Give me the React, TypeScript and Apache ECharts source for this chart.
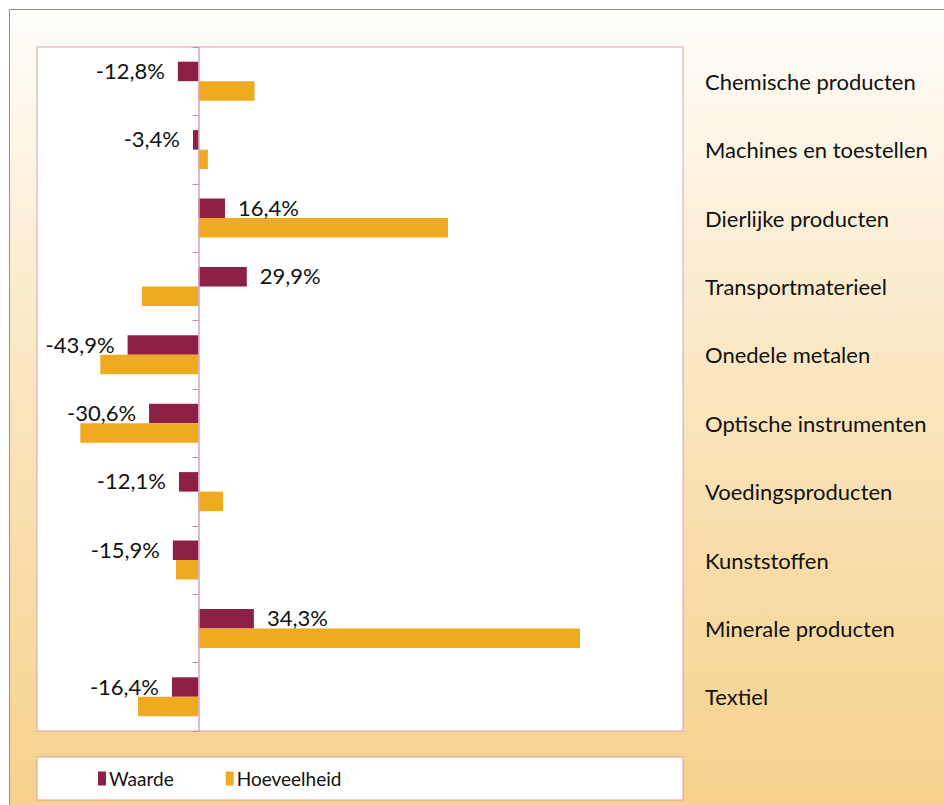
import React, { useEffect, useRef } from "react";
import * as echarts from "echarts";

const categories = [
  "Chemische producten",
  "Machines en toestellen",
  "Dierlijke producten",
  "Transportmaterieel",
  "Onedele metalen",
  "Optische instrumenten",
  "Voedingsproducten",
  "Kunststoffen",
  "Minerale producten",
  "Textiel",
];
const waarde = [-12.8, -3.4, 16.4, 29.9, -43.9, -30.6, -12.1, -15.9, 34.3, -16.4];
const hoeveelheid = [34.7, 5.8, 154.5, -35.0, -60.8, -73.2, 15.2, -13.9, 236.2, -37.5];
const seriesNames = ["Waarde", "Hoeveelheid"];

const fmt = (v: number) => v.toFixed(1).replace(".", ",") + "%";

export default function App() {
  const ref = useRef<HTMLDivElement>(null);
  useEffect(() => {
    if (!ref.current) return;
    const chart = echarts.init(ref.current, null, { renderer: "svg" });
    const labelFont = { fontFamily: "Lato, 'Open Sans', sans-serif", color: "#111" };
    chart.setOption({
      animation: false,
      backgroundColor: new echarts.graphic.LinearGradient(0, 0, 0, 1, [
        { offset: 0, color: "#FFFEFB" },
        { offset: 0.45, color: "#FAE6C1" },
        { offset: 1, color: "#F5D18C" },
      ]),
      graphic: [
        {
          type: "rect",
          shape: { x: 27, y: 747, width: 646, height: 43 },
          style: { fill: "#ffffff", stroke: "#D9A0A0", lineWidth: 1 },
        },
      ],
      legend: {
        data: seriesNames,
        left: 83,
        top: 754,
        itemWidth: 8,
        itemHeight: 14,
        itemGap: 52,
        icon: "rect",
        textStyle: {
          fontFamily: "Lato, sans-serif",
          fontSize: 19,
          color: "#111",
          padding: [0, 0, 0, -2],
        },
      },
      grid: {
        left: 27,
        top: 37,
        right: 261,
        bottom: 74,
        show: true,
        backgroundColor: "#ffffff",
        borderColor: "#D6A0B6",
        borderWidth: 1,
      },
      xAxis: {
        type: "value",
        min: -100,
        max: 300,
        show: false,
      },
      yAxis: [
        {
          type: "category",
          data: categories,
          inverse: true,
          axisLine: { show: true, onZero: true, lineStyle: { color: "#D6A3B8", width: 1.5 } },
          axisTick: { show: true, length: 6, lineStyle: { color: "#C98AA5" } },
          axisLabel: { show: false },
          splitLine: { show: false },
          z: 5,
        },
        {
          type: "category",
          data: categories,
          inverse: true,
          position: "right",
          axisLine: { show: false },
          axisTick: { show: false },
          axisLabel: {
            show: true,
            margin: 22,
            align: "left",
            fontSize: 22,
            ...labelFont,
          },
        },
      ],
      series: [
        {
          name: seriesNames[0],
          type: "bar",
          yAxisIndex: 0,
          barWidth: 19.5,
          barGap: "0%",
          itemStyle: { color: "#8E1F47" },
          data: waarde.map((v) => ({
            value: v,
            label: { position: v < 0 ? "left" : "right" },
          })),
          label: {
            show: true,
            distance: 13,
            fontSize: 22,
            offset: [0, -1],
            ...labelFont,
            formatter: (p: any) => fmt(p.value),
          },
        },
        {
          name: seriesNames[1],
          type: "bar",
          yAxisIndex: 0,
          barWidth: 19.5,
          barGap: "0%",
          itemStyle: { color: "#F0AA22" },
          data: hoeveelheid,
        },
      ],
    });
    return () => chart.dispose();
  }, []);
  return (
    <div style={{ position: "fixed", left: 0, top: 0, width: 944, height: 805, background: "#fff" }}>
      <div
        style={{
          position: "absolute",
          left: 9,
          top: 9,
          width: 935,
          height: 796,
          borderLeft: "1px solid #8E8E8E",
          borderTop: "1px solid #8E8E8E",
          boxSizing: "border-box",
        }}
      >
        <div ref={ref} style={{ width: 934, height: 795 }} />
      </div>
    </div>
  );
}
